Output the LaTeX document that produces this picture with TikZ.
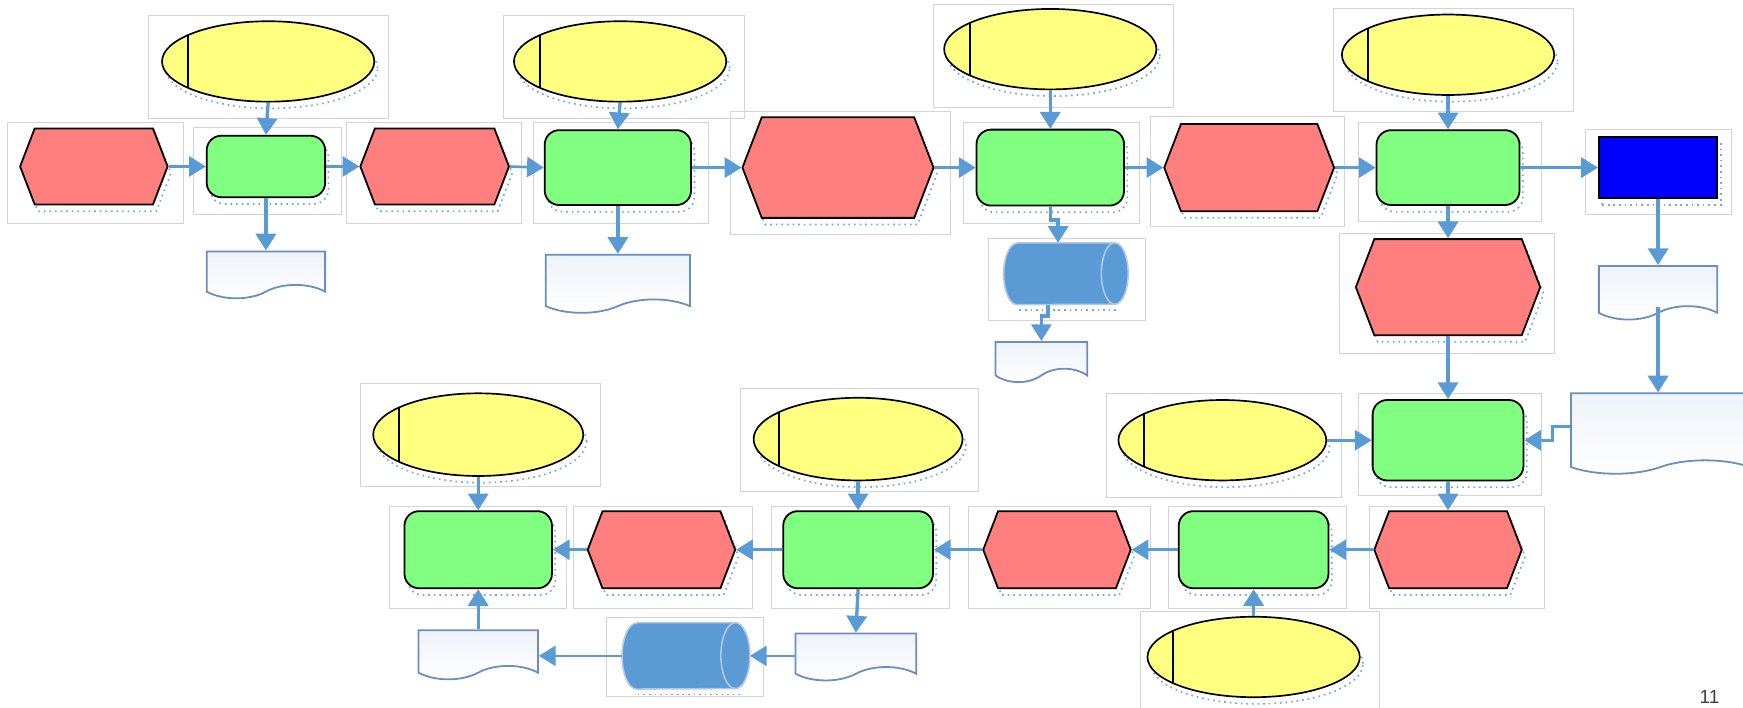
\documentclass[tikz,border=0pt]{standalone}
\usepackage{fontspec}
\setmainfont{Liberation Sans}
\usetikzlibrary{shapes.geometric,shapes.symbols,arrows.meta,shadows}

\definecolor{evtred}{HTML}{FF7F7F}
\definecolor{fungreen}{HTML}{80FF80}
\definecolor{orgyellow}{HTML}{FFFF80}
\definecolor{sysblue}{HTML}{0000FF}
\definecolor{flowblue}{HTML}{5B9BD5}
\definecolor{docedge}{HTML}{6A8EBE}
\definecolor{docfill}{HTML}{EEF3FA}
\definecolor{framegray}{HTML}{D4D4D4}
\definecolor{capline}{HTML}{B4C8E2}

\tikzset{
  dotshade/.style={general shadow={shadow xshift=3pt, shadow yshift=-6pt,
      draw=flowblue!85, line width=1.5pt, dash pattern=on 1.5pt off 3.5pt}},
  evt/.style={signal, signal to=west and east, signal pointer angle=138,
      draw=black, line width=1.6pt, fill=evtred, inner sep=0pt, dotshade},
  fun/.style={rectangle, rounded corners=13pt, draw=black, line width=1.6pt,
      fill=fungreen, inner sep=0pt, dotshade},
  org/.style={ellipse, draw=black, line width=1.5pt, fill=orgyellow, inner sep=0pt,
      minimum width=190pt, minimum height=72pt, dotshade,
      path picture={\draw[line width=1.8pt]
        ([xshift=23pt]path picture bounding box.north west) --
        ([xshift=23pt]path picture bounding box.south west);}},
  sys/.style={rectangle, draw=black, line width=1.6pt, fill=sysblue, inner sep=0pt, dotshade},
  docu/.style={tape, tape bend top=none, tape bend bottom=in and out, tape bend height=12pt,
      draw=docedge, line width=1.6pt, top color=docfill, bottom color=white, inner sep=0pt},
  store/.style={rectangle, inner sep=0pt},
  storebody/.style={fill=flowblue, draw=capline, line width=1.4pt},
  storecap/.style={draw=capline, line width=1.4pt},
  frame/.style={draw=framegray, line width=0.8pt},
  flow/.style={draw=flowblue, line width=3pt, -{Triangle[length=15pt,width=18pt]}},
}

\begin{document}
\begin{tikzpicture}[x=1pt, y=1pt]
  \useasboundingbox (0,0) rectangle (1560,-633);

  % frames
  \draw[frame] (7,-110) rectangle (164,-200);
  \draw[frame] (173,-114) rectangle (306,-192);
  \draw[frame] (310,-110) rectangle (467,-200);
  \draw[frame] (477,-110) rectangle (634,-200);
  \draw[frame] (654,-100) rectangle (851,-210);
  \draw[frame] (862,-110) rectangle (1020,-200);
  \draw[frame] (1030,-104) rectangle (1203,-203);
  \draw[frame] (1216,-110) rectangle (1380,-198);
  \draw[frame] (1419,-116) rectangle (1550,-192);
  \draw[frame] (133,-14) rectangle (348,-106);
  \draw[frame] (451,-14) rectangle (666,-106);
  \draw[frame] (835,-4) rectangle (1050,-96);
  \draw[frame] (1193,-8) rectangle (1408,-100);
  \draw[frame] (885,-213) rectangle (1025,-287);
  \draw[frame] (1199,-209) rectangle (1391,-316);
  \draw[frame] (1216,-352) rectangle (1380,-443);
  \draw[frame] (990,-352) rectangle (1201,-445);
  \draw[frame] (1226,-453) rectangle (1382,-545);
  \draw[frame] (1046,-453) rectangle (1205,-545);
  \draw[frame] (1021,-547) rectangle (1235,-640);
  \draw[frame] (867,-453) rectangle (1030,-545);
  \draw[frame] (690,-453) rectangle (850,-545);
  \draw[frame] (663,-348) rectangle (876,-440);
  \draw[frame] (513,-453) rectangle (673,-545);
  \draw[frame] (349,-453) rectangle (507,-545);
  \draw[frame] (323,-343) rectangle (537,-435);
  \draw[frame] (543,-553) rectangle (683,-623);

  % top row
  \node[evt, minimum width=132pt, minimum height=68pt] (e1) at (84,-149) {};
  \node[fun, minimum width=106pt, minimum height=55pt] (f1) at (238,-149) {};
  \node[evt, minimum width=133pt, minimum height=68pt] (e2) at (389,-149) {};
  \node[fun, minimum width=131pt, minimum height=67pt] (f2) at (553,-150) {};
  \node[evt, minimum width=171pt, minimum height=90pt] (e3) at (750,-150) {};
  \node[fun, minimum width=132pt, minimum height=68pt] (f3) at (940,-150) {};
  \node[evt, minimum width=152pt, minimum height=78pt] (e4) at (1118,-150) {};
  \node[fun, minimum width=128pt, minimum height=67pt] (f4) at (1296,-150) {};
  \node[sys, minimum width=106pt, minimum height=55pt] (sys) at (1484,-150) {};
  \node[org] (o1) at (240,-55) {};
  \node[org] (o2) at (555,-55) {};
  \node[org] (o3) at (940,-44) {};
  \node[org] (o4) at (1296,-49) {};
  \node[docu, minimum width=106pt, minimum height=42pt] (d1) at (238,-240) {};
  \node[docu, minimum width=129pt, minimum height=52pt] (d2) at (553,-248) {};
  \node[store, minimum width=111pt, minimum height=55pt] (s1) at (954,-245) {};
  \node[docu, minimum width=82pt, minimum height=36pt] (d3) at (932,-318) {};
  \node[evt, minimum width=165pt, minimum height=86pt] (e5) at (1296,-257) {};
  \node[docu, minimum width=106pt, minimum height=48pt] (d4) at (1484,-256) {};
  \node[docu, minimum width=160pt, minimum height=72pt] (d5) at (1486,-382) {};

  % middle and bottom rows
  \node[fun, minimum width=135pt, minimum height=72pt] (f5) at (1296,-394) {};
  \node[org, minimum width=186pt] (o5) at (1094,-394) {};
  \node[evt, minimum width=132pt, minimum height=69pt] (e6) at (1296,-492) {};
  \node[fun, minimum width=134pt, minimum height=69pt] (f6) at (1122,-492) {};
  \node[org] (o6) at (1122,-588) {};
  \node[evt, minimum width=132pt, minimum height=69pt] (e7) at (946,-492) {};
  \node[fun, minimum width=134pt, minimum height=69pt] (f7) at (768,-492) {};
  \node[org, minimum width=187pt, minimum height=74pt] (o7) at (768,-393) {};
  \node[docu, minimum width=108pt, minimum height=42pt] (d6) at (766,-582) {};
  \node[store, minimum width=114pt, minimum height=59pt] (s2) at (614,-587) {};
  \node[docu, minimum width=107pt, minimum height=44pt] (d7) at (428,-580) {};
  \node[evt, minimum width=132pt, minimum height=69pt] (e8) at (592,-492) {};
  \node[fun, minimum width=132pt, minimum height=69pt] (f8) at (428,-492) {};
  \node[org, minimum width=188pt, minimum height=74pt] (o8) at (428,-389) {};

  % data stores
  \draw[flowblue!85, line width=1.5pt, dash pattern=on 1.5pt off 3.5pt]
    ([xshift=14pt,yshift=-5pt]s1.south west) -- ([xshift=-8pt,yshift=-5pt]s1.south east);
  \draw[storebody] ([xshift=12pt]s1.north west) -- ([xshift=-12pt]s1.north east)
    arc[start angle=90, end angle=-90, x radius=12, y radius=27.5]
    -- ([xshift=12pt]s1.south west)
    arc[start angle=270, end angle=90, x radius=12, y radius=27.5] -- cycle;
  \draw[storecap] ([xshift=-12pt]s1.north east)
    arc[start angle=90, end angle=270, x radius=12, y radius=27.5];
  \draw[flowblue!85, line width=1.5pt, dash pattern=on 1.5pt off 3.5pt]
    ([xshift=14pt,yshift=-5pt]s2.south west) -- ([xshift=-8pt,yshift=-5pt]s2.south east);
  \draw[storebody] ([xshift=13pt]s2.north west) -- ([xshift=-13pt]s2.north east)
    arc[start angle=90, end angle=-90, x radius=13, y radius=29.5]
    -- ([xshift=13pt]s2.south west)
    arc[start angle=270, end angle=90, x radius=13, y radius=29.5] -- cycle;
  \draw[storecap] ([xshift=-13pt]s2.north east)
    arc[start angle=90, end angle=270, x radius=13, y radius=29.5];

  \node[text=black!75, font=\fontsize{17}{20}\selectfont] (page) at (1530,-624) {11};

  % connectors
  \begin{scope}[flow]
    \draw[line width=2.3pt] (e1.east) -- (f1.west);
    \draw[line width=2.3pt] (f1.east) -- (e2.west);
    \draw[line width=2.3pt] (e2.east) -- (f2.west);
    \draw[line width=2.3pt] (f2.east) -- (e3.west);
    \draw[line width=2.3pt] (e3.east) -- (f3.west);
    \draw[line width=2.3pt] (f3.east) -- (e4.west);
    \draw[line width=2.3pt] (e4.east) -- (f4.west);
    \draw[line width=2.3pt] (f4.east) -- (sys.west);
    \draw (o1.south) -- (f1.north);
    \draw (o2.south) -- (f2.north);
    \draw (o3.south) -- (f3.north);
    \draw (o4.south) -- (f4.north);
    \draw (f1.south) -- (d1.north);
    \draw (f2.south) -- (d2.north);
    \draw (f3.south) -- ++(0,-12) -| ([xshift=-7pt]s1.north);
    \draw ([xshift=-16pt]s1.south) -- ++(0,-10) -| (d3.north);
    \draw (f4.south) -- (e5.north);
    \draw (sys.south) -- (d4.north);
    \draw (e5.south) -- (f5.north);
    \draw (d4.south) -- (d4.south |- d5.north);
    \draw (d5.west) -- ++(-16,0) |- (f5.east);
    \draw[line width=2.3pt] (o5.east) -- (f5.west);
    \draw (f5.south) -- (e6.north);
    \draw[line width=2.3pt] (e6.west) -- (f6.east);
    \draw (o6.north) -- (f6.south);
    \draw[line width=2.3pt] (f6.west) -- (e7.east);
    \draw[line width=2.3pt] (e7.west) -- (f7.east);
    \draw (o7.south) -- (f7.north);
    \draw (f7.south) -- (d6.north);
    \draw[line width=2.3pt] (d6.west |- s2.east) -- (s2.east);
    \draw[line width=2.3pt] (s2.west) -- (d7.east |- s2.west);
    \draw[line width=2.3pt] (f7.west) -- (e8.east);
    \draw[line width=2.3pt] (e8.west) -- (f8.east);
    \draw (o8.south) -- (f8.north);
    \draw (d7.north) -- (f8.south);
  \end{scope}
\end{tikzpicture}
\end{document}
